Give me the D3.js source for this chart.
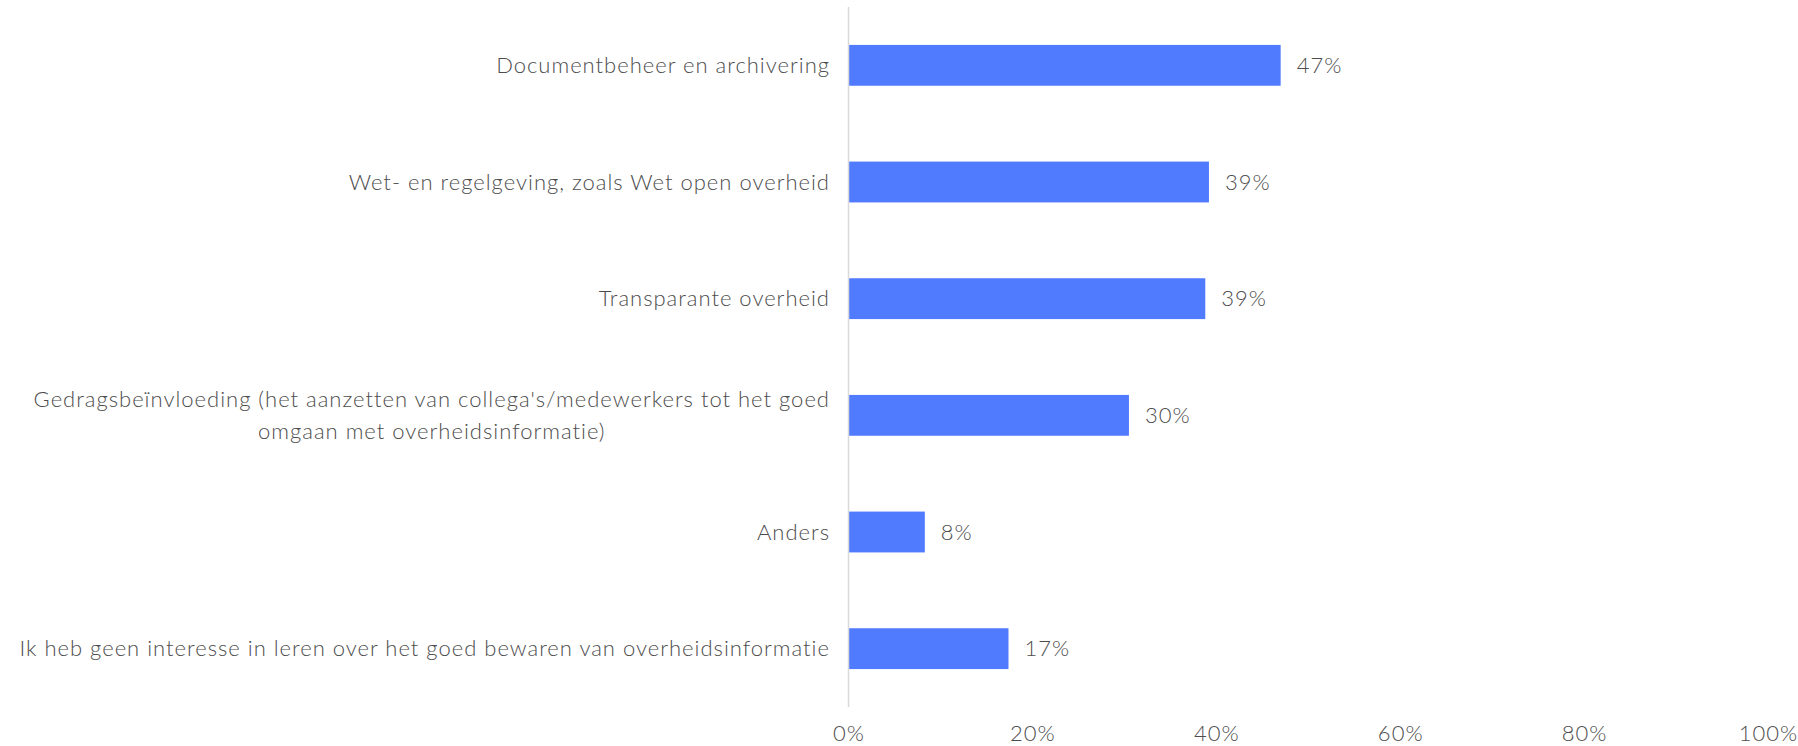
<!DOCTYPE html>
<html>
<head>
<meta charset="utf-8">
<script src="https://cdn.jsdelivr.net/npm/d3@7"></script>
<style>
  body { margin: 0; background: #fff; }
  text { font-family: "Century Gothic", Lato, "Open Sans", sans-serif; fill: #4d4d4d; font-weight: 300; letter-spacing: 1px; }
</style>
</head>
<body>
<div id="chart"></div>
<script>
// Size of the picture
var w = 1798;
var h = 746;

// Data
var categories = [
	"Documentbeheer en archivering",
	"Wet- en regelgeving, zoals Wet open overheid",
	"Transparante overheid",
	"Gedragsbeïnvloeding (het aanzetten van collega's/medewerkers tot het goed|omgaan met overheidsinformatie)",
	"Anders",
	"Ik heb geen interesse in leren over het goed bewaren van overheidsinformatie"
];
var values = [47.0, 39.2, 38.8, 30.5, 8.3, 17.4];
var valueLabels = ["47%", "39%", "39%", "30%", "8%", "17%"];
var ticks = [0, 20, 40, 60, 80, 100];

var margin = { top: 7, left: 848.5, right: 30, bottom: 39 };
var fontSize = 22;

var x = d3.scaleLinear()
	.domain([0, 100])
	.range([margin.left, 1768]);

var y = d3.scaleBand()
	.domain(categories)
	.range([margin.top, h - margin.bottom])
	.paddingInner(0.65)
	.paddingOuter(0.325);

var svg = d3.select("#chart")
	.append("svg")
	.attr("width", w)
	.attr("height", h);

// Bars
svg.selectAll("rect.bar")
	.data(categories)
	.enter()
	.append("rect")
	.attr("class", "bar")
	.attr("x", x(0))
	.attr("y", function(d) { return y(d); })
	.attr("width", function(d, i) { return x(values[i]) - x(0); })
	.attr("height", y.bandwidth())
	.style("fill", "#517bff");

// Value labels
svg.selectAll("text.value")
	.data(categories)
	.enter()
	.append("text")
	.attr("class", "value")
	.attr("x", function(d, i) { return x(values[i]) + 16; })
	.attr("y", function(d) { return y(d) + y.bandwidth() / 2; })
	.attr("dy", "0.35em")
	.style("font-size", fontSize + "px")
	.text(function(d, i) { return valueLabels[i]; });

// Category labels, lines split on "|" and centred on each other
var lineHeight = 32;
var labelRight = 830;
svg.selectAll("g.cat")
	.data(categories)
	.enter()
	.append("g")
	.attr("class", "cat")
	.each(function(d) {
		var g = d3.select(this);
		var lines = d.split("|");
		var cy = y(d) + y.bandwidth() / 2;
		var texts = lines.map(function(line, k) {
			return g.append("text")
				.attr("y", cy + (k - (lines.length - 1) / 2) * lineHeight)
				.attr("dy", "0.35em")
				.style("font-size", fontSize + "px")
				.text(line);
		});
		var maxW = d3.max(texts, function(t) { return t.node().getComputedTextLength(); });
		texts.forEach(function(t) {
			t.attr("x", labelRight - maxW / 2).attr("text-anchor", "middle");
		});
	});

// Vertical axis line
svg.append("line")
	.attr("x1", x(0))
	.attr("x2", x(0))
	.attr("y1", margin.top)
	.attr("y2", h - margin.bottom)
	.style("stroke", "#d9d9d9")
	.style("stroke-width", 1.5);

// Bottom tick labels
var xAxis = d3.axisBottom(x)
	.tickValues(ticks)
	.tickSize(0)
	.tickPadding(18)
	.tickFormat(function(d) { return d + "%"; });

var axisG = svg.append("g")
	.attr("transform", "translate(0," + (h - margin.bottom) + ")")
	.call(xAxis);
axisG.select(".domain").remove();
axisG.selectAll("text")
	.style("font-size", fontSize + "px")
	.style("font-family", null)
	.attr("fill", "#4d4d4d");
</script>
</body>
</html>
